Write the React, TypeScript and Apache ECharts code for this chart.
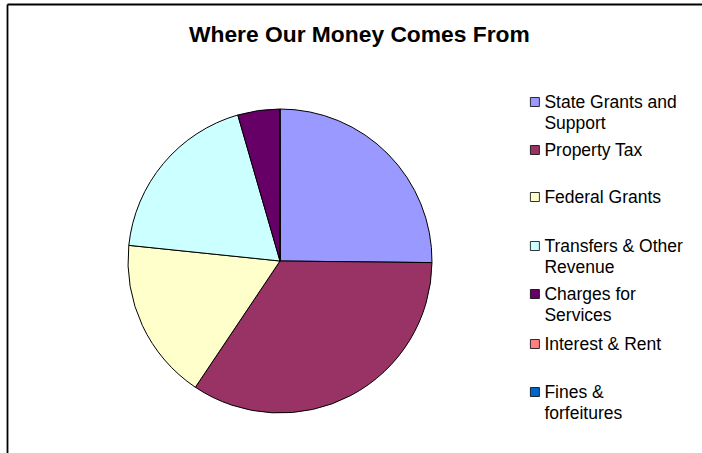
import React, { useEffect, useRef } from "react";
import * as echarts from "echarts";

const TITLE = "Where Our Money Comes From";
const categories = [
  "State Grants and Support",
  "Property Tax",
  "Federal Grants",
  "Transfers & Other Revenue",
  "Charges for Services",
  "Interest & Rent",
  "Fines & forfeitures",
];
const legendLines = [
  ["State Grants and", "Support"],
  ["Property Tax"],
  ["Federal Grants"],
  ["Transfers & Other", "Revenue"],
  ["Charges for", "Services"],
  ["Interest & Rent"],
  ["Fines &", "forfeitures"],
];
const values = [25.18, 34.25, 17.25, 18.89, 4.43, 0.03, 0.02];
const colors = ["#9999FF", "#993366", "#FFFFCC", "#CCFFFF", "#660066", "#FF8080", "#0066CC"];
const legendCenters = [102, 150, 197, 246, 294, 344, 392];

export default function App() {
  const ref = useRef<HTMLDivElement>(null);
  useEffect(() => {
    if (!ref.current) return;
    const chart = echarts.init(ref.current, undefined, { renderer: "svg" });
    const lh = 20.5;
    const legends = categories.map((name, i) => {
      const lines = legendLines[i];
      const multi = lines.length > 1;
      return {
        orient: "vertical",
        left: 530,
        top: multi ? legendCenters[i] - lh * 1.5 : legendCenters[i] - lh / 2,
        padding: 0,
        itemWidth: 9,
        itemHeight: 9,
        icon: "rect",
        selectedMode: false,
        data: [name],
        formatter: () => (multi ? "\n" + lines.join("\n") : lines.join("\n")),
        itemStyle: { borderColor: "#000", borderWidth: 0.8 },
        textStyle: {
          fontFamily: "Liberation Sans, Arial, sans-serif",
          fontSize: 17.5,
          color: "#000",
          lineHeight: lh,
        },
      };
    });
    chart.setOption({
      animation: false,
      color: colors,
      title: {
        text: TITLE,
        left: 189,
        top: 23,
        padding: 0,
        textStyle: {
          fontFamily: "Liberation Sans, Arial, sans-serif",
          fontSize: 22.8,
          fontWeight: "bold",
          color: "#000",
          lineHeight: 22,
        },
      },
      legend: legends,
      graphic: [
        {
          type: "line",
          shape: { x1: 7.5, y1: 4.5, x2: 702, y2: 4.5 },
          style: { stroke: "#000", lineWidth: 1.8 },
          silent: true,
        },
        {
          type: "line",
          shape: { x1: 7.5, y1: 4.5, x2: 7.5, y2: 453 },
          style: { stroke: "#000", lineWidth: 1.8 },
          silent: true,
        },
      ],
      series: [
        {
          type: "pie",
          center: [280, 261],
          radius: 152,
          startAngle: 90,
          clockwise: true,
          avoidLabelOverlap: false,
          label: { show: false },
          labelLine: { show: false },
          emphasis: { disabled: true },
          itemStyle: { borderColor: "#000", borderWidth: 1 },
          data: categories.map((name, i) => ({ name, value: values[i] })),
        },
      ],
    });
    return () => chart.dispose();
  }, []);
  return (
    <div
      ref={ref}
      style={{ position: "absolute", left: 0, top: 0, width: 702, height: 453, background: "#fff" }}
    />
  );
}
